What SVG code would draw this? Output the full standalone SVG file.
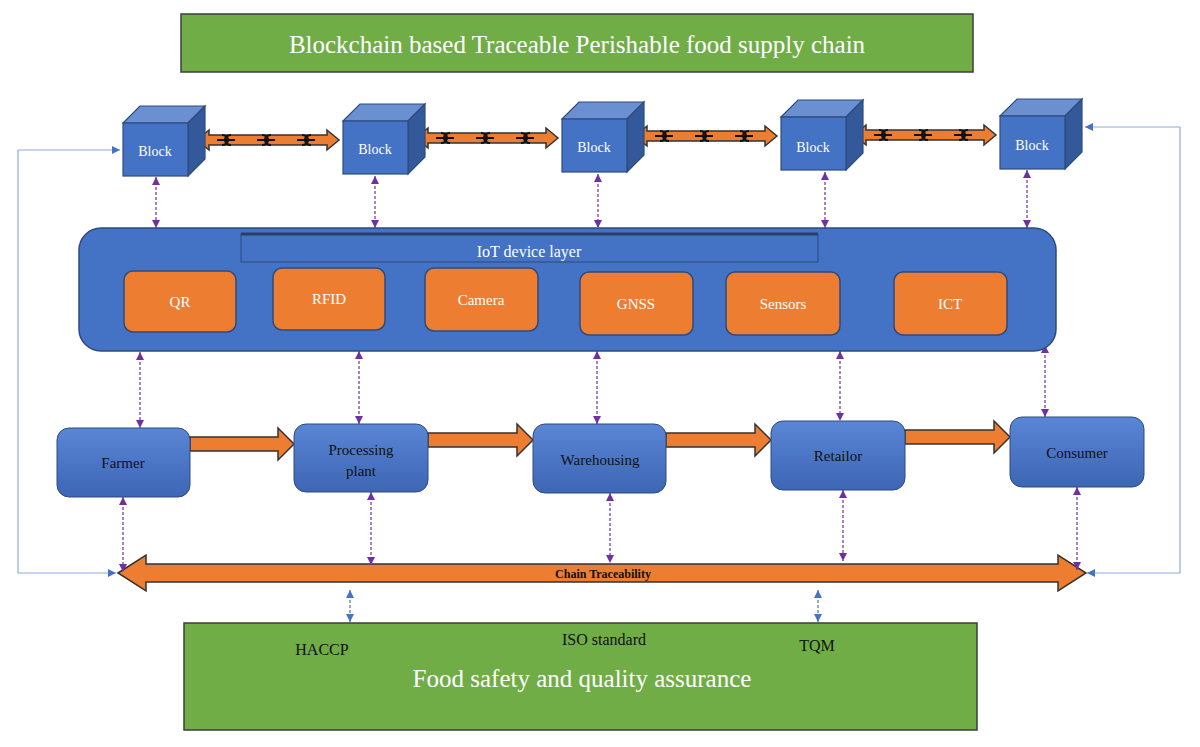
<svg xmlns="http://www.w3.org/2000/svg" width="1200" height="747" viewBox="0 0 1200 747" font-family="'Liberation Serif', 'DejaVu Serif', serif">
<style>
text{text-anchor:middle}
.green{fill:#70AD47;stroke:#3d3d3d;stroke-width:1.5}
.blue{fill:#4472C4;stroke:#2F4B7C;stroke-width:1.5}
.front{fill:#4472C4;stroke:#2F4B7C;stroke-width:1.2}
.top{fill:#6A90D2;stroke:#2F4B7C;stroke-width:1.2}
.side{fill:#34599A;stroke:#2F4B7C;stroke-width:1.2}
.org{fill:#ED7D31;stroke:#2F4B7C;stroke-width:1.5}
.oarr{fill:#ED7D31;stroke:#333;stroke-width:1.5}
.pl{stroke:#7030A0;stroke-width:1.2;stroke-dasharray:3 2;fill:none;marker-start:url(#pm);marker-end:url(#pm)}
.bl{stroke:#4472C4;stroke-width:1.2;stroke-dasharray:3 2;fill:none;marker-start:url(#bm);marker-end:url(#bm)}
.fb{stroke:#8FAADC;stroke-width:1.2;fill:none;marker-end:url(#fm)}
.wt{fill:#fff}
.bk{fill:#111}
.lk{fill:none;stroke:#111;stroke-width:2.2}
</style>
<defs>
<marker id="pm" viewBox="0 0 10 10" refX="10" refY="5" markerWidth="8" markerHeight="8" markerUnits="userSpaceOnUse" orient="auto-start-reverse"><path d="M0,0L10,5L0,10z" fill="#7030A0"/></marker>
<marker id="bm" viewBox="0 0 10 10" refX="10" refY="5" markerWidth="8" markerHeight="8" markerUnits="userSpaceOnUse" orient="auto-start-reverse"><path d="M0,0L10,5L0,10z" fill="#4472C4"/></marker>
<marker id="fm" viewBox="0 0 10 10" refX="10" refY="5" markerWidth="8" markerHeight="8" markerUnits="userSpaceOnUse" orient="auto"><path d="M0,0L10,5L0,10z" fill="#4472C4"/></marker>
<linearGradient id="pg" x1="0" y1="0" x2="0" y2="1"><stop offset="0" stop-color="#5A86D6"/><stop offset="1" stop-color="#3D66B4"/></linearGradient>
<g id="link"><path class="lk" d="M-12,-5 a6,5 0 0 1 0,10 M-3,-5 a6,5 0 0 0 0,10 M-17,0 h18"/></g>
</defs>

<g id="title"><rect class="green" x="181" y="14" width="792" height="58"/><text class="wt" x="577" y="53" font-size="25">Blockchain based Traceable Perishable food supply chain</text></g>

<g id="connectors">
<path class="fb" d="M18,150 V573 H116"/>
<path class="fb" d="M18,150 H120"/>
<path class="fb" d="M1180,127 V573 H1087"/>
<path class="fb" d="M1180,127 H1085"/>
<g id="chains">
<path class="oarr" d="M197,140 l12,-10 v5 h118 v-5 l12,10 l-12,10 v-5 h-118 v5z"/>
<path class="oarr" d="M416,138 l12,-10 v5 h118 v-5 l12,10 l-12,10 v-5 h-118 v5z"/>
<path class="oarr" d="M635,136 l12,-10 v5 h118 v-5 l12,10 l-12,10 v-5 h-118 v5z"/>
<path class="oarr" d="M854,135 l12,-10 v5 h118 v-5 l12,10 l-12,10 v-5 h-118 v5z"/>
<use href="#link" x="234" y="140"/><use href="#link" x="274" y="140"/><use href="#link" x="314" y="140"/>
<use href="#link" x="453" y="138"/><use href="#link" x="493" y="138"/><use href="#link" x="533" y="138"/>
<use href="#link" x="672" y="136"/><use href="#link" x="712" y="136"/><use href="#link" x="752" y="136"/>
<use href="#link" x="891" y="135"/><use href="#link" x="931" y="135"/><use href="#link" x="971" y="135"/>
</g>
<g id="flow">
<path class="oarr" d="M190,437 h88 v-9 l16,16 l-16,16 v-9 h-88z"/>
<path class="oarr" d="M428,433 h89 v-9 l16,16 l-16,16 v-9 h-89z"/>
<path class="oarr" d="M666,433 h89 v-9 l16,16 l-16,16 v-9 h-89z"/>
<path class="oarr" d="M905,430 h89 v-9 l16,16 l-16,16 v-9 h-89z"/>
</g>
<path class="oarr" d="M118,573 l28,-18 v9 h912 v-9 l28,18 l-28,18 v-9 h-912 v9z"/>
<text class="bk" x="603" y="578" font-size="12" font-weight="bold">Chain Traceability</text>
<line class="pl" x1="156" y1="177" x2="156" y2="228"/>
<line class="pl" x1="375" y1="176" x2="375" y2="228"/>
<line class="pl" x1="598" y1="174" x2="598" y2="228"/>
<line class="pl" x1="825" y1="172" x2="825" y2="228"/>
<line class="pl" x1="1027" y1="170" x2="1027" y2="228"/>
<line class="pl" x1="140" y1="352" x2="140" y2="428"/>
<line class="pl" x1="359" y1="351" x2="359" y2="424"/>
<line class="pl" x1="597" y1="351" x2="597" y2="424"/>
<line class="pl" x1="840" y1="351" x2="840" y2="421"/>
<line class="pl" x1="1045" y1="345" x2="1045" y2="417"/>
<line class="pl" x1="123" y1="497" x2="123" y2="572"/>
<line class="pl" x1="371" y1="492" x2="371" y2="565"/>
<line class="pl" x1="610" y1="493" x2="610" y2="563"/>
<line class="pl" x1="843" y1="490" x2="843" y2="561"/>
<line class="pl" x1="1077" y1="487" x2="1077" y2="570"/>
<line class="bl" x1="350" y1="590" x2="350" y2="622"/>
<line class="bl" x1="818" y1="590" x2="818" y2="622"/>
</g>

<g id="block1"><path class="top" d="M123,123 l17,-17 h65 l-17,17z"/><path class="side" d="M188,123 l17,-17 v53 l-17,17z"/><rect class="front" x="123" y="123" width="65" height="53"/><text class="wt" x="155" y="156" font-size="14">Block</text></g>
<g id="block2"><path class="top" d="M343,121 l17,-17 h65 l-17,17z"/><path class="side" d="M408,121 l17,-17 v53 l-17,17z"/><rect class="front" x="343" y="121" width="65" height="53"/><text class="wt" x="375" y="154" font-size="14">Block</text></g>
<g id="block3"><path class="top" d="M562,119 l17,-17 h65 l-17,17z"/><path class="side" d="M627,119 l17,-17 v53 l-17,17z"/><rect class="front" x="562" y="119" width="65" height="53"/><text class="wt" x="594" y="152" font-size="14">Block</text></g>
<g id="block4"><path class="top" d="M781,117 l17,-17 h65 l-17,17z"/><path class="side" d="M846,117 l17,-17 v53 l-17,17z"/><rect class="front" x="781" y="117" width="65" height="53"/><text class="wt" x="813" y="152" font-size="14">Block</text></g>
<g id="block5"><path class="top" d="M1000,116 l17,-17 h65 l-17,17z"/><path class="side" d="M1065,116 l17,-17 v53 l-17,17z"/><rect class="front" x="1000" y="116" width="65" height="53"/><text class="wt" x="1032" y="150" font-size="14">Block</text></g>

<g id="iot">
<rect class="blue" x="79" y="228" width="977" height="123" rx="22" stroke="#1f2f50" stroke-width="2"/>
<rect x="241" y="234" width="577" height="28" fill="#4472C4" stroke="#2F4B7C"/>
<line x1="241" y1="234" x2="818" y2="234" stroke="#2a3f66" stroke-width="3"/>
<text class="wt" x="529" y="257" font-size="16">IoT device layer</text>
</g>
<g id="qr"><rect class="org" x="124" y="271" width="112" height="61" rx="9"/><text class="wt" x="180" y="307" font-size="15">QR</text></g>
<g id="rfid"><rect class="org" x="273" y="268" width="112" height="62" rx="9"/><text class="wt" x="329" y="304" font-size="15">RFID</text></g>
<g id="camera"><rect class="org" x="425" y="268" width="113" height="63" rx="9"/><text class="wt" x="481" y="305" font-size="15">Camera</text></g>
<g id="gnss"><rect class="org" x="580" y="272" width="113" height="63" rx="9"/><text class="wt" x="636" y="309" font-size="15">GNSS</text></g>
<g id="sensors"><rect class="org" x="726" y="272" width="114" height="63" rx="9"/><text class="wt" x="783" y="309" font-size="15">Sensors</text></g>
<g id="ict"><rect class="org" x="894" y="272" width="113" height="63" rx="9"/><text class="wt" x="950" y="309" font-size="15">ICT</text></g>

<g id="farmer"><rect x="57" y="428" width="133" height="69" rx="12" fill="url(#pg)" stroke="#2F4B7C"/><text class="bk" x="123" y="468" font-size="15">Farmer</text></g>
<g id="processing"><rect x="294" y="424" width="134" height="68" rx="12" fill="url(#pg)" stroke="#2F4B7C"/><text class="bk" x="361" y="455" font-size="15">Processing</text><text class="bk" x="361" y="476" font-size="15">plant</text></g>
<g id="warehousing"><rect x="533" y="424" width="133" height="69" rx="12" fill="url(#pg)" stroke="#2F4B7C"/><text class="bk" x="600" y="465" font-size="15">Warehousing</text></g>
<g id="retailor"><rect x="771" y="421" width="134" height="69" rx="12" fill="url(#pg)" stroke="#2F4B7C"/><text class="bk" x="838" y="461" font-size="15">Retailor</text></g>
<g id="consumer"><rect x="1010" y="417" width="134" height="70" rx="12" fill="url(#pg)" stroke="#2F4B7C"/><text class="bk" x="1077" y="458" font-size="15">Consumer</text></g>

<g id="food"><rect class="green" x="184" y="623" width="793" height="107"/>
<text class="bk" x="322" y="655" font-size="16">HACCP</text>
<text class="bk" x="604" y="645" font-size="16">ISO standard</text>
<text class="bk" x="817" y="651" font-size="16">TQM</text>
<text class="wt" x="582" y="687" font-size="25">Food safety and quality assurance</text></g>
</svg>
